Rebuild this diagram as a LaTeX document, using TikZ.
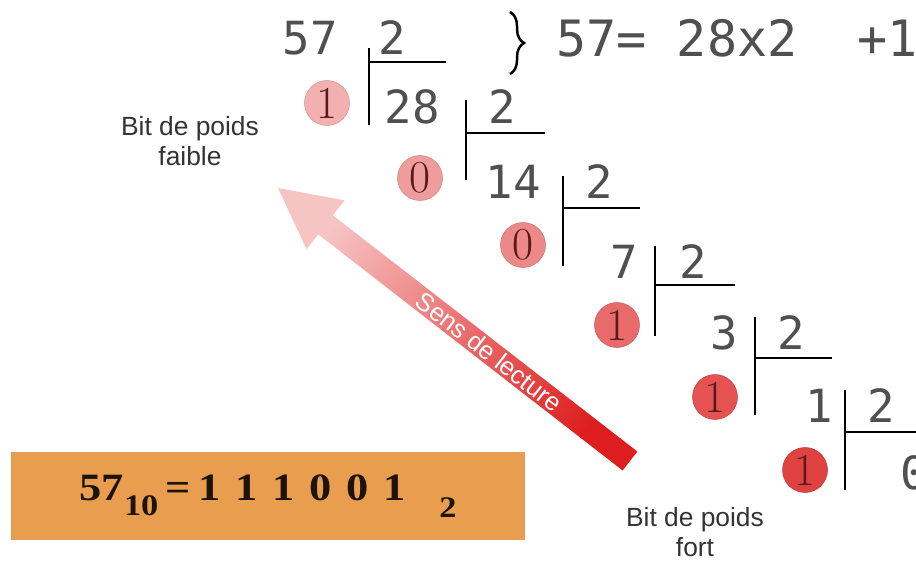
\documentclass[tikz,border=0pt]{standalone}
\usepackage{fontspec}
\usepackage{xcolor}
\usepackage{tikz}
\usetikzlibrary{calc,decorations.pathreplacing}
\newfontfamily\divfont{DejaVu Sans Mono}
\newfontfamily\labelfont{Liberation Sans}
\newfontfamily\resfont{Liberation Serif}
\definecolor{divgray}{HTML}{505050}
\definecolor{resbg}{HTML}{E89D4F}
\definecolor{digred}{HTML}{5A1A1A}
\definecolor{bitA}{HTML}{F3B0B0}
\definecolor{bitB}{HTML}{EF9C9C}
\definecolor{bitC}{HTML}{EC8888}
\definecolor{bitD}{HTML}{E86A6A}
\definecolor{bitE}{HTML}{E45252}
\definecolor{bitF}{HTML}{E04242}
\definecolor{arrowtip}{HTML}{F7C4C4}
\definecolor{arrowtail}{HTML}{DE1E1E}

\begin{document}
\begin{tikzpicture}[x=0.02cm, y=-0.02cm,
  num/.style={font=\divfont\fontsize{26}{26}\selectfont, text=divgray, inner sep=0pt},
  bit/.style={circle, inner sep=0pt, minimum size=0.9cm, draw=#1!85!black, line width=0.3pt, fill=#1,
    font=\fontsize{26}{26}\selectfont, text=digred},
  bar/.style={line width=1.5pt, black},
  note/.style={font=\labelfont\fontsize{15}{17}\selectfont, text=black!80, align=center}]
  \clip (0,0) rectangle (916,563);

  % Step 1: 57 / 2
  \node[num] (d0) at (310,38) {57};
  \node[num] (q1) at (392,38) {2};
  \coordinate (b1t) at (369,48);  \coordinate (b1b) at (369,125);
  \coordinate (u1a) at (369,62);  \coordinate (u1b) at (446,62);
  \draw[bar] (b1t) -- (b1b);
  \draw[bar] (u1a) -- (u1b);
  \coordinate (brt) at (510,12);  \coordinate (brb) at (510,74);
  \draw[line width=1.4pt, decorate, decoration={brace, amplitude=8pt}] (brt) -- (brb);
  \node[num, anchor=west, font=\divfont\fontsize{28.5}{28}\selectfont] (eq) at (556,38) {57=\ 28x2\ \ +1};
  \node[bit=bitA] (r1) at (327,103) {1};

  % Step 2: 28 / 2
  \node[num] (d1) at (412,107) {28};
  \node[num] (q2) at (502,107) {2};
  \coordinate (b2t) at (466,100); \coordinate (b2b) at (466,180);
  \coordinate (u2a) at (466,133); \coordinate (u2b) at (545,133);
  \draw[bar] (b2t) -- (b2b);
  \draw[bar] (u2a) -- (u2b);
  \node[bit=bitB] (r2) at (420,178) {0};

  % Step 3: 14 / 2
  \node[num] (d2) at (513,182) {14};
  \node[num] (q3) at (599,182) {2};
  \coordinate (b3t) at (563,176); \coordinate (b3b) at (563,266);
  \coordinate (u3a) at (563,208); \coordinate (u3b) at (640,208);
  \draw[bar] (b3t) -- (b3b);
  \draw[bar] (u3a) -- (u3b);
  \node[bit=bitC] (r3) at (523,245) {0};

  % Step 4: 7 / 2
  \node[num] (d3) at (624,262) {7};
  \node[num] (q4) at (693,262) {2};
  \coordinate (b4t) at (655,246); \coordinate (b4b) at (655,336);
  \coordinate (u4a) at (655,285); \coordinate (u4b) at (735,285);
  \draw[bar] (b4t) -- (b4b);
  \draw[bar] (u4a) -- (u4b);
  \node[bit=bitD] (r4) at (617,325) {1};

  % Step 5: 3 / 2
  \node[num] (d4) at (724,333) {3};
  \node[num] (q5) at (791,333) {2};
  \coordinate (b5t) at (755,317); \coordinate (b5b) at (755,415);
  \coordinate (u5a) at (755,358); \coordinate (u5b) at (832,358);
  \draw[bar] (b5t) -- (b5b);
  \draw[bar] (u5a) -- (u5b);
  \node[bit=bitE] (r5) at (715,397) {1};

  % Step 6: 1 / 2
  \node[num] (d5) at (819,406) {1};
  \node[num] (q6) at (881,406) {2};
  \coordinate (b6t) at (845,390); \coordinate (b6b) at (845,490);
  \coordinate (u6a) at (845,432); \coordinate (u6b) at (916,432);
  \draw[bar] (b6t) -- (b6b);
  \draw[bar] (u6a) -- (u6b);
  \node[bit=bitF] (r6) at (805,470) {1};
  \node[num] (d6) at (914,473) {0};

  % Reading arrow
  \coordinate (tail) at (630,461);
  \coordinate (tip) at (278,188);
  \coordinate (base) at ($(tail)!0.865!(tip)$);
  \shade[top color=arrowtip, bottom color=arrowtail, shading angle=52]
    ($(tail)!0.24cm!90:(tip)$) -- ($(base)!0.24cm!-90:(tail)$) -- ($(base)!0.62cm!-90:(tail)$)
    -- (tip) -- ($(base)!0.62cm!90:(tail)$) -- ($(base)!0.24cm!90:(tail)$)
    -- ($(tail)!0.24cm!-90:(tip)$) -- cycle;
  \path (tip) -- (tail) node[pos=0.6, sloped, text=white, font=\labelfont\fontsize{14.5}{15}\selectfont] (sens) {Sens de lecture};

  \node[note] (faible) at (190,141) {Bit de poids\\faible};
  \node[note] (fort) at (695,532) {Bit de poids\\fort};

  % Result
  \node[fill=resbg, minimum width=10.28cm, minimum height=1.76cm, inner sep=0pt,
    font=\resfont\bfseries\fontsize{22}{22}\selectfont, text=black!85!brown] (res) at (268,496)
    {\scalebox{1.15}[1]{57\raisebox{-0.4em}{\fontsize{17}{17}\selectfont 10}\,=\,1\,\,1\,\,1\,\,0\,\,0\,\,1\ \ \ \raisebox{-0.45em}{\fontsize{17}{17}\selectfont 2}}};
\end{tikzpicture}
\end{document}
